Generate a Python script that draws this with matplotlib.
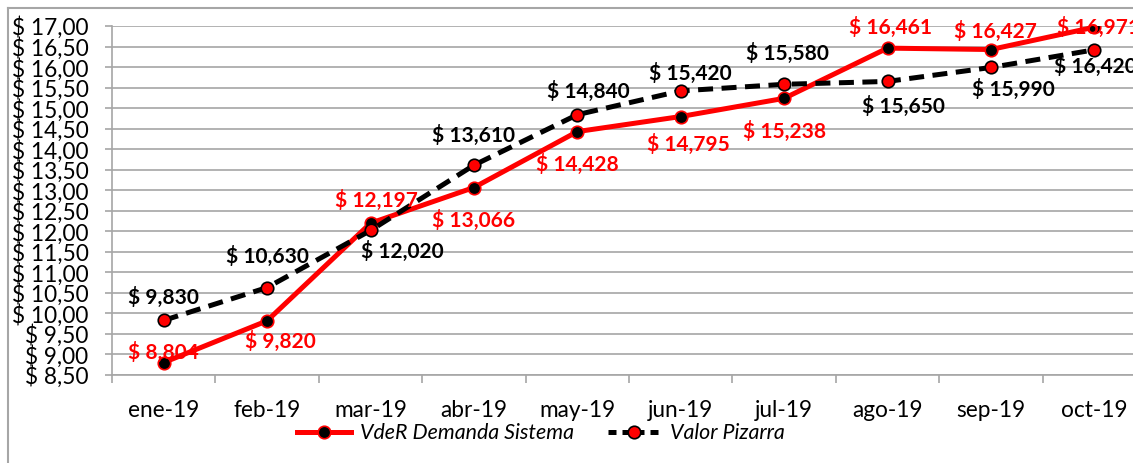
import matplotlib.pyplot as plt
from matplotlib.lines import Line2D
from matplotlib.ticker import FixedLocator

plt.rcParams['font.family'] = ['Lato', 'DejaVu Sans']
plt.rcParams['text.parse_math'] = False

# data
months = ['ene-19', 'feb-19', 'mar-19', 'abr-19', 'may-19',
          'jun-19', 'jul-19', 'ago-19', 'sep-19', 'oct-19']
vder = [8.804, 9.820, 12.197, 13.066, 14.428, 14.795, 15.238, 16.461, 16.427, 16.971]
pizarra = [9.830, 10.630, 12.020, 13.610, 14.840, 15.420, 15.580, 15.650, 15.990, 16.420]
yticks = [8.5 + 0.5 * i for i in range(18)]

# label offsets in pixels (dx, dy)
vder_off = [(0, 10), (13, -21), (6, 23), (0, -33), (0, -33),
            (8, -28), (0, -33), (3, 21), (5, 18), (4, 0)]
piz_off = [(0, 23), (0, 31), (32, -21), (0, 30), (11, 23),
           (10, 17), (3, 31), (16, -25), (22, -22), (1, -17)]

RED = '#FF0000'
GRID = '#A6A6A6'
px = 0.72  # points per pixel at dpi 100

fig = plt.figure(figsize=(11.33, 4.63), dpi=100)
ax = fig.add_axes([112 / 1133, 88 / 463, 1034 / 1133, 349 / 463])

x = list(range(len(months)))

ax.plot(x, vder, color=RED, lw=3.6, marker='o', ms=9,
        mfc='black', mec=RED, mew=1.2, zorder=3)
ax.plot(x, pizarra, color='black', lw=3.6, ls=(0, (3, 1.7)), marker='o', ms=9,
        mfc=RED, mec='black', mew=1.2, zorder=4)

for xi, v, (dx, dy) in zip(x, vder, vder_off):
    ax.annotate('$ ' + f'{v:.3f}'.replace('.', ','), (xi, v),
                xytext=(dx * px, dy * px), textcoords='offset points',
                ha='center', va='center', color=RED, fontsize=15,
                fontweight='bold', zorder=6, annotation_clip=False)
for xi, v, (dx, dy) in zip(x, pizarra, piz_off):
    ax.annotate('$ ' + f'{v:.3f}'.replace('.', ','), (xi, v),
                xytext=(dx * px, dy * px), textcoords='offset points',
                ha='center', va='center', color='black', fontsize=15,
                fontweight='bold', zorder=6, annotation_clip=False)

ax.set_xlim(-0.5, len(months) - 0.5)
ax.set_ylim(8.5, 17.0)
ax.set_yticks(yticks)
ax.set_yticklabels(['$ ' + f'{t:.2f}'.replace('.', ',') for t in yticks], fontsize=16.3)
ax.set_xticks(x)
ax.set_xticklabels(months, fontsize=16.3)
ax.xaxis.set_minor_locator(FixedLocator([i - 0.5 for i in range(len(months) + 1)]))
ax.tick_params(axis='x', which='major', length=0, pad=18)
ax.tick_params(axis='x', which='minor', length=5.8, width=1.2, color=GRID)
ax.tick_params(axis='y', length=5, width=1.2, color=GRID, pad=12)

ax.grid(axis='y', color=GRID, lw=1.2, zorder=0)
ax.set_axisbelow(True)
for s in ['top', 'right']:
    ax.spines[s].set_visible(False)
for s in ['left', 'bottom']:
    ax.spines[s].set_color(GRID)
    ax.spines[s].set_linewidth(1.2)

# outer chart frame
fig.add_artist(Line2D([8 / 1133, 8 / 1133], [0, 1 - 8 / 463], color=GRID, lw=1.5))
fig.add_artist(Line2D([8 / 1133, 1], [1 - 8 / 463, 1 - 8 / 463], color=GRID, lw=1.5))

handles = [
    Line2D([], [], color=RED, lw=3.6, marker='o', ms=9, mfc='black', mec=RED, mew=1.2),
    Line2D([], [], color='black', lw=3.6, ls=(0, (1.6, 1.2)), marker='o', ms=9,
           mfc=RED, mec='black', mew=1.2),
]
fig.legend(handles, ['VdeR Demanda Sistema', 'Valor Pizarra'], loc='center',
           bbox_to_anchor=(541 / 1133, 30 / 463), ncol=2, frameon=False,
           prop={'size': 15.4, 'style': 'italic'}, handlelength=2.5,
           columnspacing=1.6, handletextpad=0.4)

fig.savefig('out.png', dpi=100)
